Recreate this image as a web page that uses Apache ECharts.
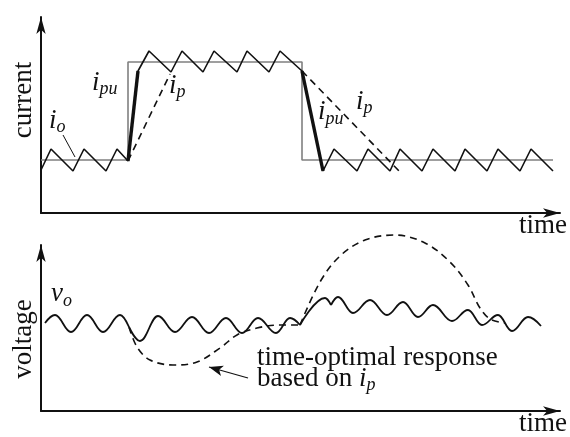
<!DOCTYPE html>
<html>
<head>
<meta charset="utf-8">
<script src="https://cdn.jsdelivr.net/npm/echarts@6/dist/echarts.min.js"></script>
<style>
  html, body { margin: 0; padding: 0; background: #fff; }
  #chart { width: 570px; height: 437px; }
</style>
</head>
<body>
<div id="chart"></div>
<script>
// Axis extents (arbitrary units, both panels share the time scale)
const timeRange = [0, 519];
const currentRange = [0, 196];
const voltageRange = [0, 166];

// Pulse current reference i_pu: step up, hold, step down
const stepTime    = [0, 87, 87, 261, 261, 512];
const stepCurrent = [53, 53, 151, 151, 53, 53];

// Inductor current with switching ripple (i_o level, high level, i_o level)
const rippleTime = [0, 10, 32, 43, 65, 76, 87, 97, 108, 130, 141, 162, 173, 196, 206, 228, 239, 261,
                    282, 293, 316, 327, 349, 359, 381, 392, 414, 424, 446, 457, 479, 490, 512];
const rippleCurrent = [43, 64, 42, 64, 42, 64, 52, 142, 162, 141, 162, 141, 162, 141, 162, 141, 162, 142,
                       42, 64, 42, 64, 42, 64, 42, 64, 42, 64, 42, 64, 42, 64, 42];

// Fast transitions while following i_pu
const riseTime = [87, 97];
const riseCurrent = [52, 142];
const fallTime = [261, 282];
const fallCurrent = [142, 42];

// Slower time-optimal current i_p
const ipRiseTime = [87, 129];
const ipRiseCurrent = [52, 139];
const ipFallTime = [261, 359];
const ipFallCurrent = [142, 41];

// Output voltage v_o, split at the corners of the waveform
const voA_time = [4, 14, 30, 46, 62, 79, 88];
const voA_volt = [88, 96, 79, 96, 79, 96, 84];
const voB_time = [88, 99, 117, 134, 151, 168, 185, 201, 217, 235, 249, 259];
const voB_volt = [84, 70, 95, 79, 94, 78, 93, 78, 93, 78, 93, 86];
const voC_time = [259, 284, 290];
const voC_volt = [86, 113, 106];
const voD_time = [290, 297, 312, 329, 346, 362, 377, 392, 411, 427, 441, 457, 471, 487, 500];
const voD_volt = [106, 114, 98, 111, 96, 109, 94, 106, 90, 101, 86, 96, 80, 94, 85];

// Voltage of the time-optimal response based on i_p
const optDipTime = [88, 96, 109, 132, 156, 179, 196, 216, 239, 259];
const optDipVolt = [84, 64, 51, 46, 49, 63, 76, 83, 86, 86];
const optHumpTime = [259, 279, 299, 324, 354, 384, 409, 427, 439, 449, 464];
const optHumpVolt = [86, 129, 155, 171, 176, 168, 149, 126, 103, 92, 88];

// Annotation leaders
const ioLeader = [[22, 78], [34, 56]];
const optArrow = [[207, 33], [168, 44]];

const zip = (xs, ys) => xs.map((x, i) => [x, ys[i]]);

const SERIF = '"Liberation Serif", "Times New Roman", serif';
const BLACK = '#111';
const FS = 27;

function axisPair(gridIndex, yRange) {
  const line = {
    show: true,
    onZero: false,
    symbol: ['none', 'arrow'],
    symbolSize: [7, 17],
    lineStyle: { color: BLACK, width: 2 }
  };
  return {
    x: {
      type: 'value', gridIndex, min: timeRange[0], max: timeRange[1],
      axisLine: line, axisTick: { show: false }, axisLabel: { show: false }, splitLine: { show: false }
    },
    y: {
      type: 'value', gridIndex, min: yRange[0], max: yRange[1],
      axisLine: line, axisTick: { show: false }, axisLabel: { show: false }, splitLine: { show: false }
    }
  };
}
const topAxes = axisPair(0, currentRange);
const botAxes = axisPair(1, voltageRange);

function lineSeries(data, grid, style, extra) {
  return Object.assign({
    type: 'line',
    xAxisIndex: grid, yAxisIndex: grid,
    data,
    symbol: 'none',
    silent: true,
    clip: false,
    lineStyle: Object.assign({ color: BLACK, width: 1.6 }, style)
  }, extra || {});
}

const DASH = [7, 5];
const ripple = { smooth: 0.4, smoothMonotone: 'x' };

// Italic symbol with italic subscript, positioned by its baseline
function symbolLabel(x, baseline, main, sub, drop, prefix) {
  const mid = 0.3375 * FS;
  const pad = 2 * (drop + mid - 0.3375 * 18);
  const text = (prefix ? '{n|' + prefix + '}' : '') + '{m|' + main + '}{s|' + sub + '}';
  return {
    type: 'text', x, y: baseline - mid, silent: true,
    style: {
      text, align: 'left', verticalAlign: 'middle', fill: BLACK,
      rich: {
        n: { fontFamily: SERIF, fontSize: FS, lineHeight: 42, fill: BLACK },
        m: { fontFamily: SERIF, fontStyle: 'italic', fontSize: FS, lineHeight: 42, fill: BLACK },
        s: { fontFamily: SERIF, fontStyle: 'italic', fontSize: 18, padding: [pad, 0, 0, 0], fill: BLACK }
      }
    }
  };
}

function plainText(x, y, text, align, rotation) {
  return {
    type: 'text', x, y, rotation: rotation || 0, silent: true,
    style: { text, fontFamily: SERIF, fontSize: FS, align, verticalAlign: 'middle', fill: BLACK }
  };
}

const option = {
  animation: false,
  backgroundColor: '#fff',
  grid: [
    { left: 41, right: 10, top: 17, bottom: 224 },
    { left: 41, right: 10, top: 245, bottom: 26 }
  ],
  xAxis: [topAxes.x, botAxes.x],
  yAxis: [topAxes.y, botAxes.y],
  series: [
    // current panel
    lineSeries(zip(stepTime, stepCurrent), 0, { color: '#808080', width: 1.6 }),
    lineSeries(zip(ipRiseTime, ipRiseCurrent), 0, { type: DASH, width: 1.6 }),
    lineSeries(zip(ipFallTime, ipFallCurrent), 0, { type: DASH, width: 1.6 }),
    lineSeries(zip(rippleTime, rippleCurrent), 0, { width: 1.6 }),
    lineSeries(zip(riseTime, riseCurrent), 0, { width: 3.4 }),
    lineSeries(zip(fallTime, fallCurrent), 0, { width: 3.4 }),
    lineSeries([], 0, {}, {
      markLine: {
        silent: true, symbol: ['none', 'none'], label: { show: false },
        lineStyle: { color: BLACK, width: 1, type: 'solid' },
        data: [[{ coord: ioLeader[0] }, { coord: ioLeader[1] }]]
      }
    }),
    // voltage panel
    lineSeries(zip(optDipTime, optDipVolt), 1, { type: DASH, width: 1.6 }, { smooth: 0.35 }),
    lineSeries(zip(optHumpTime, optHumpVolt), 1, { type: DASH, width: 1.6 }, { smooth: 0.35 }),
    lineSeries(zip(voA_time, voA_volt), 1, { width: 1.8 }, ripple),
    lineSeries(zip(voB_time, voB_volt), 1, { width: 1.8 }, ripple),
    lineSeries(zip(voC_time, voC_volt), 1, { width: 1.8 }, ripple),
    lineSeries(zip(voD_time, voD_volt), 1, { width: 1.8 }, ripple),
    lineSeries([], 1, {}, {
      markLine: {
        silent: true, symbol: ['none', 'arrow'], symbolSize: [8, 14], label: { show: false },
        lineStyle: { color: BLACK, width: 1.2, type: 'solid' },
        data: [[{ coord: optArrow[0] }, { coord: optArrow[1] }]]
      }
    })
  ],
  graphic: [
    plainText(24, 100, 'current', 'center', Math.PI / 2),
    plainText(24, 339, 'voltage', 'center', Math.PI / 2),
    plainText(567, 226, 'time', 'right'),
    plainText(567, 424, 'time', 'right'),
    plainText(257, 358, 'time-optimal response', 'left'),
    symbolLabel(257, 388, 'i', 'p', 3, 'based on '),
    symbolLabel(51, 303, 'v', 'o', 4),
    symbolLabel(49, 130, 'i', 'o', 3),
    symbolLabel(92, 92, 'i', 'pu', 3),
    symbolLabel(169, 95, 'i', 'p', 3),
    symbolLabel(356, 111, 'i', 'p', 3),
    symbolLabel(318, 121, 'i', 'pu', 4)
  ]
};

const chart = echarts.init(document.getElementById('chart'), null, { renderer: 'canvas' });
chart.setOption(option);
</script>
</body>
</html>
